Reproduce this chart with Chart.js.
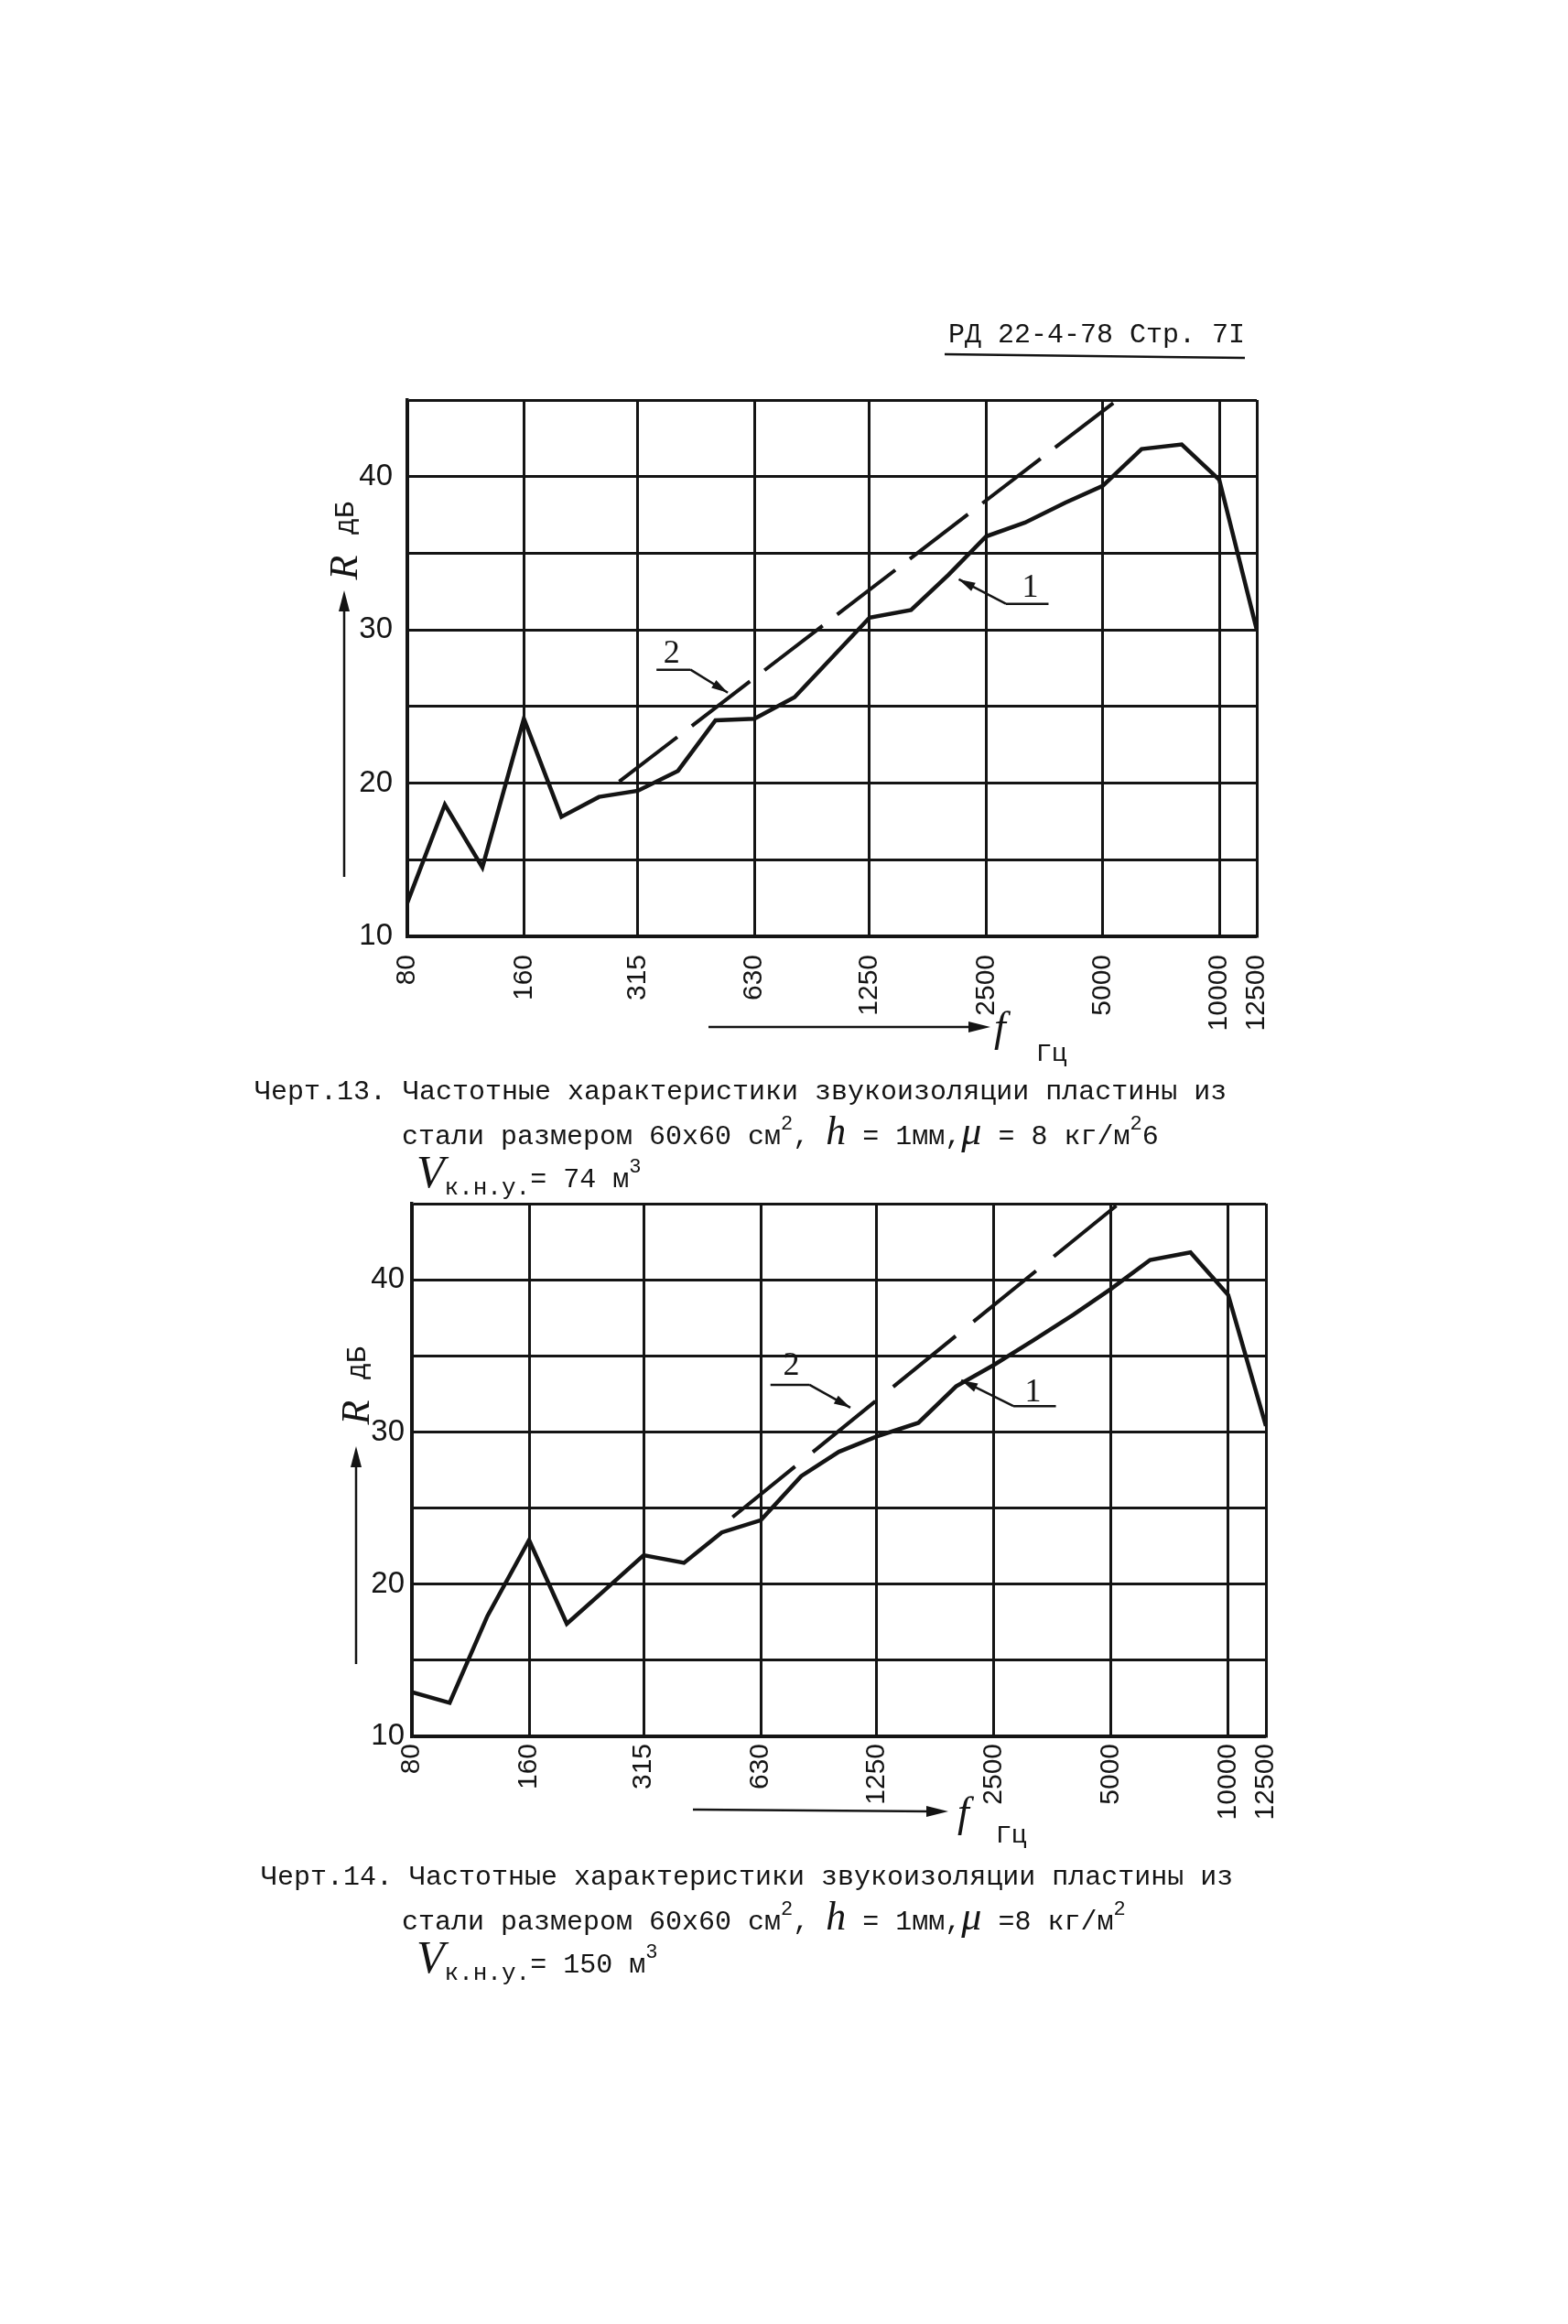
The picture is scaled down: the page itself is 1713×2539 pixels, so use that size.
<!DOCTYPE html>
<html>
<head>
<meta charset="utf-8">
<script src="https://cdn.jsdelivr.net/npm/chart.js"></script>
<style>
  body { margin: 0; background: #fff; width: 1713px; height: 2539px; position: relative; overflow: hidden;
         font-family: "Liberation Mono", "DejaVu Sans Mono", monospace; color: #141414; }
  .t { position: absolute; white-space: nowrap; font-size: 30px; line-height: 1; transform: translateY(-50%); }
  .it { font-family: "Liberation Serif", serif; font-style: italic; }
  .sup { font-size: 22px; position: relative; top: -16px; }
  .rot { position: absolute; white-space: nowrap; line-height: 1; transform: translate(-50%, -50%) rotate(-90deg); }
  canvas { position: absolute; }
  svg { position: absolute; left: 0; top: 0; }
</style>
</head>
<body>

<canvas id="c13" width="1120" height="800" style="left:300px; top:400px"></canvas>
<canvas id="c14" width="1120" height="800" style="left:300px; top:1290px"></canvas>

<svg width="1713" height="2539">
  <g stroke="#141414" fill="#141414">
    <!-- header underline -->
    <line x1="1032" y1="387" x2="1360" y2="391" stroke-width="2.5"/>
    <!-- R axis arrows -->
    <line x1="376" y1="958" x2="376" y2="660" stroke-width="2.5"/>
    <polygon points="376,645 370,668 382,668" stroke="none"/>
    <line x1="389" y1="1818" x2="389" y2="1595" stroke-width="2.5"/>
    <polygon points="389,1580 383,1603 395,1603" stroke="none"/>
    <!-- f axis arrows -->
    <line x1="774" y1="1122" x2="1062" y2="1122" stroke-width="2.5"/>
    <polygon points="1082,1122 1058,1116 1058,1128" stroke="none"/>
    <line x1="757" y1="1977" x2="1018" y2="1979" stroke-width="2.5"/>
    <polygon points="1036,1979 1012,1973 1012,1985" stroke="none"/>
  </g>
</svg>

<div class="t" style="left:1036px; top:366px;">РД 22-4-78 Стр. 7I</div>

<div class="rot it" style="left:376px; top:620px; font-size:44px;">R</div>
<div class="rot" style="left:378px; top:566px; font-size:30px;">дБ</div>
<div class="rot it" style="left:389px; top:1543px; font-size:44px;">R</div>
<div class="rot" style="left:391px; top:1489px; font-size:30px;">дБ</div>

<div class="t it" style="left:1086px; top:1122px; font-size:46px;">f</div>
<div class="t" style="left:1132px; top:1152px; font-size:28px;">Гц</div>
<div class="t it" style="left:1046px; top:1980px; font-size:46px;">f</div>
<div class="t" style="left:1088px; top:2006px; font-size:28px;">Гц</div>

<div class="t" style="left:278px; top:1193px;">Черт.13. Частотные характеристики звукоизоляции пластины из</div>
<div class="t" style="left:439px; top:1236px;">стали размером 60х60 см<span class="sup">2</span>, <span class="it" style="font-size:44px">h</span> = 1мм,<span class="it" style="font-size:44px">μ</span> = 8 кг/м<span class="sup">2</span>6</div>
<div class="t" style="left:455px; top:1280px;"><span class="it" style="font-size:50px">V</span><span style="font-size:26px; position:relative; top:8px">к.н.у.</span>= 74 м<span class="sup">3</span></div>

<div class="t" style="left:285px; top:2051px;">Черт.14. Частотные характеристики звукоизоляции пластины из</div>
<div class="t" style="left:439px; top:2094px;">стали размером 60х60 см<span class="sup">2</span>, <span class="it" style="font-size:44px">h</span> = 1мм,<span class="it" style="font-size:44px">μ</span> =8 кг/м<span class="sup">2</span></div>
<div class="t" style="left:455px; top:2138px;"><span class="it" style="font-size:50px">V</span><span style="font-size:26px; position:relative; top:8px">к.н.у.</span>= 150 м<span class="sup">3</span></div>

<script>
// 1/3-octave band centres, Hz
var bands = [80, 100, 125, 160, 200, 250, 315, 400, 500, 630, 800, 1000,
             1250, 1600, 2000, 2500, 3150, 4000, 5000, 6300, 8000, 10000, 12500];
var freqTicks = [80, 160, 315, 630, 1250, 2500, 5000, 10000, 12500];

// curve 1 (measured), dB
var r13 = [12.2, 18.6, 14.5, 24.2, 17.8, 19.1, 19.5, 20.8, 24.1, 24.2, 25.6, 28.2,
           30.8, 31.3, 33.6, 36.1, 37.0, 38.3, 39.4, 41.8, 42.1, 39.8, 30.0];
var r14 = [12.9, 12.2, 17.9, 22.9, 17.4, 19.6, 21.9, 21.4, 23.4, 24.2, 27.1, 28.7,
           29.7, 30.6, 33.0, 34.4, 36.0, 37.7, 39.4, 41.3, 41.8, 39.0, 30.4];

// curve 2 (dashed, calculated) end points
var mass13F = [282, 5450];
var mass13R = [20.1, 45];
var mass14F = [533, 5236];
var mass14R = [24.4, 45];

var ink = '#141414';

// "1" / "2" callouts with leader lines, in data units
var leaders = {
  id: 'leaders',
  afterDatasetsDraw: function(chart, args, opts) {
    var ctx = chart.ctx, x = chart.scales.x, y = chart.scales.y;
    ctx.save();
    ctx.strokeStyle = ink;
    ctx.fillStyle = ink;
    ctx.lineWidth = 2.5;
    ctx.font = '36px "Liberation Serif"';
    ctx.textAlign = 'center';
    ctx.textBaseline = 'middle';
    opts.notes.forEach(function(n) {
      var u1 = x.getPixelForValue(n.line[0]), u2 = x.getPixelForValue(n.line[1]);
      var uy = y.getPixelForValue(n.line[2]);
      var tx = x.getPixelForValue(n.tip[0]), ty = y.getPixelForValue(n.tip[1]);
      var sx = n.fromEnd ? u2 : u1;
      ctx.beginPath();
      ctx.moveTo(u1, uy); ctx.lineTo(u2, uy);
      ctx.moveTo(sx, uy); ctx.lineTo(tx, ty);
      ctx.stroke();
      var a = Math.atan2(ty - uy, tx - sx);
      ctx.beginPath();
      ctx.moveTo(tx, ty);
      ctx.lineTo(tx - 18 * Math.cos(a) + 5 * Math.sin(a), ty - 18 * Math.sin(a) - 5 * Math.cos(a));
      ctx.lineTo(tx - 18 * Math.cos(a) - 5 * Math.sin(a), ty - 18 * Math.sin(a) + 5 * Math.cos(a));
      ctx.closePath();
      ctx.fill();
      ctx.fillText(n.text, x.getPixelForValue(n.label[0]), y.getPixelForValue(n.label[1]));
    });
    ctx.restore();
  }
};

function makeChart(id, curve, massF, massR, L) {
  return new Chart(id, {
    type: 'line',
    data: {
      datasets: [{
        data: bands.map(function(f, i) { return {x: f, y: curve[i]}; }),
        borderColor: ink,
        borderWidth: 4.5,
        pointRadius: 0,
        tension: 0
      }, {
        data: massF.map(function(f, i) { return {x: f, y: massR[i]}; }),
        borderColor: ink,
        borderWidth: 4,
        borderDash: L.dash,
        pointRadius: 0
      }]
    },
    options: {
      responsive: false,
      animation: false,
      layout: { padding: { top: L.padTop, right: L.padRight, left: 0, bottom: 0 } },
      plugins: {
        legend: { display: false },
        tooltip: { enabled: false },
        leaders: { notes: L.notes }
      },
      scales: {
        x: {
          type: 'logarithmic',
          min: 80,
          max: 12500,
          bounds: 'data',
          afterBuildTicks: function(s) { s.ticks = freqTicks.map(function(v) { return {value: v}; }); },
          afterFit: function(s) { s.height = L.xHeight; s.paddingLeft = 0; s.paddingRight = 0; },
          ticks: {
            autoSkip: false,
            minRotation: 90,
            maxRotation: 90,
            padding: L.xPad,
            color: ink,
            font: { family: '"Liberation Sans", Arial, sans-serif', size: 30 },
            callback: function(v) { return String(v); }
          },
          grid: { color: ink, lineWidth: 3, drawTicks: false },
          border: { color: ink, width: 3.5 }
        },
        y: {
          min: 10,
          max: 45,
          afterFit: function(s) { s.width = L.yWidth; s.paddingTop = 0; s.paddingBottom = 0; },
          ticks: {
            stepSize: 5,
            padding: L.yPad,
            color: ink,
            font: { family: '"Liberation Sans", Arial, sans-serif', size: 33 },
            callback: function(v) { return v % 10 === 0 ? String(v) : ''; }
          },
          grid: { color: ink, lineWidth: 3, drawTicks: false },
          border: { color: ink, width: 3.5 }
        }
      }
    },
    plugins: [leaders]
  });
}

makeChart('c13', r13, mass13F, mass13R, {
  padTop: 37, padRight: 47, yWidth: 145, xHeight: 177, yPad: 16, xPad: 20,
  dash: [80, 20],
  notes: [
    { text: '2', label: [385, 28.4], line: [352, 431, 27.4], tip: [538, 25.9], fromEnd: 1 },
    { text: '1', label: [3250, 32.7], line: [2812, 3623, 31.7], tip: [2125, 33.3], fromEnd: 0 }
  ]
});

makeChart('c14', r14, mass14F, mass14R, {
  padTop: 25, padRight: 37, yWidth: 150, xHeight: 193, yPad: 8, xPad: 8,
  dash: [88, 25],
  notes: [
    { text: '2', label: [755, 34.3], line: [667, 840, 33.1], tip: [1070, 31.6], fromEnd: 1 },
    { text: '1', label: [3150, 32.6], line: [2806, 3609, 31.7], tip: [2062, 33.4], fromEnd: 0 }
  ]
});
</script>
</body>
</html>
